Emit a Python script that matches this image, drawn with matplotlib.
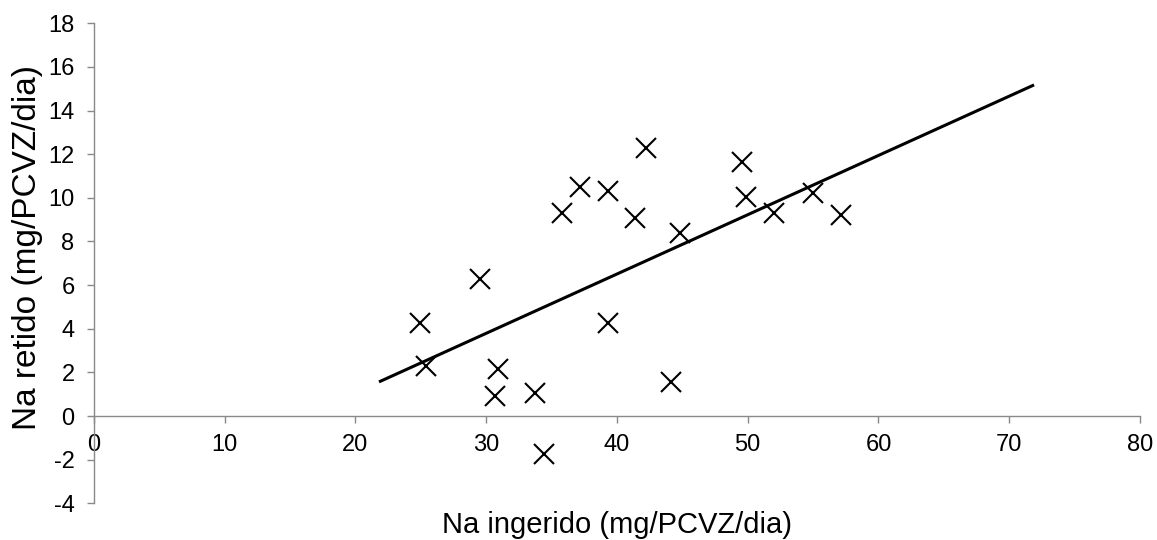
import matplotlib

matplotlib.use("Agg")
import matplotlib.pyplot as plt
import numpy as np

# Na ingerido vs Na retido (mg/PCVZ/dia), one point per animal
na_ingerido = [24.9, 25.4, 29.5, 30.9, 30.7, 33.7, 34.4, 35.8, 37.2, 39.3,
               39.3, 42.2, 41.4, 44.8, 44.1, 49.6, 49.9, 52.0, 55.0, 57.1]
na_retido = [4.28, 2.29, 6.26, 2.14, 0.92, 1.07, -1.74, 9.29, 10.51, 10.33,
             4.28, 12.27, 9.09, 8.37, 1.54, 11.65, 10.05, 9.29, 10.20, 9.23]

# linear trend line as drawn (forecast forward past the last point)
trend_slope = 0.2717
trend_intercept = -4.36
trend_x_range = [21.8, 71.9]

x_ticks = [0, 10, 20, 30, 40, 50, 60, 70, 80]
y_ticks = [-4, -2, 0, 2, 4, 6, 8, 10, 12, 14, 16, 18]

x_label = "Na ingerido (mg/PCVZ/dia)"
y_label = "Na retido (mg/PCVZ/dia)"

axis_grey = "#898989"

plt.rcParams["font.family"] = ["Liberation Sans", "DejaVu Sans"]
plt.rcParams["axes.unicode_minus"] = False  # Excel prints "-2" with a hyphen

fig = plt.figure(figsize=(11.57, 5.40), dpi=100)
ax = fig.add_axes([0.0812, 0.068, 0.9041, 0.8889])

trend_x = np.array(trend_x_range)
ax.plot(trend_x, trend_slope * trend_x + trend_intercept, color="black", linewidth=2.2,
        solid_capstyle="butt", zorder=2)
ax.plot(na_ingerido, na_retido, linestyle="none", marker="x", markersize=14,
        markeredgewidth=1.5, color="black", zorder=3)

ax.set_xlim(0, 80)
ax.set_ylim(-4, 18)
ax.set_xticks(x_ticks)
ax.set_yticks(y_ticks)

# Excel-style axes: horizontal axis crosses at y = 0
ax.spines["bottom"].set_position(("data", 0))
ax.spines["top"].set_visible(False)
ax.spines["right"].set_visible(False)
for side in ("left", "bottom"):
    ax.spines[side].set_color(axis_grey)
    ax.spines[side].set_linewidth(1.0)

ax.tick_params(axis="both", direction="out", length=5, width=1.0, color=axis_grey,
               labelsize=17, labelcolor="black")
ax.tick_params(axis="y", pad=9)
ax.tick_params(axis="x", pad=8)

ax.set_xlabel(x_label, fontsize=21)
ax.set_ylabel(y_label, fontsize=24)
ax.xaxis.set_label_coords(0.5, -0.016)
ax.yaxis.set_label_coords(-0.049, 0.532)

fig.savefig("out.png", dpi=100)
plt.close(fig)
